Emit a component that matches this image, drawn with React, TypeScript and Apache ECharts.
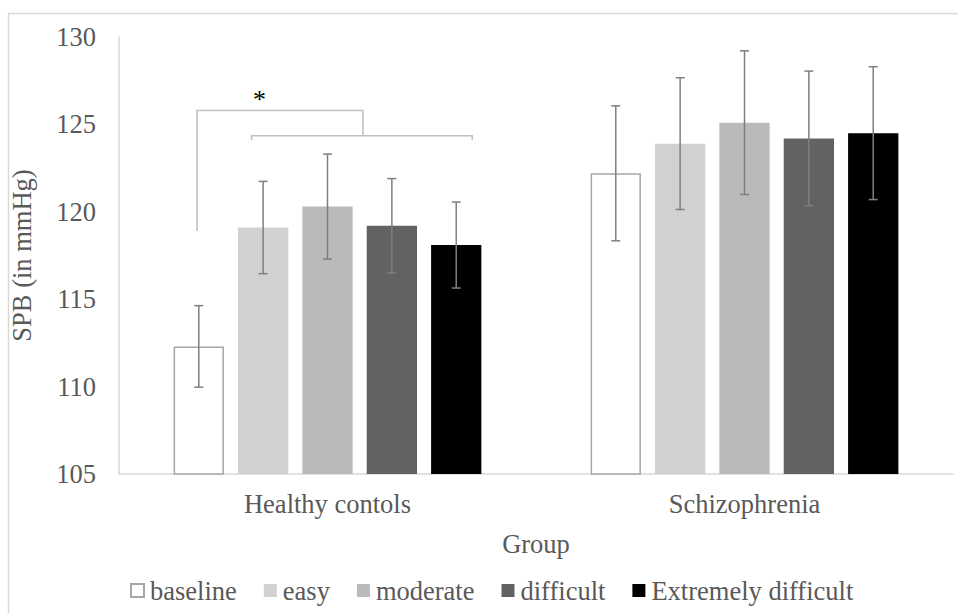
import React, { useEffect, useRef } from "react";
import * as echarts from "echarts";

const groups = ["Healthy contols", "Schizophrenia"];
const conditions = ["baseline", "easy", "moderate", "difficult", "Extremely difficult"];
const baselineMean = [112.3, 122.2];
const easyMean = [119.1, 123.9];
const moderateMean = [120.3, 125.1];
const difficultMean = [119.2, 124.2];
const extremeMean = [118.1, 124.5];
const baselineErr = [2.33, 3.86];
const easyErr = [2.64, 3.77];
const moderateErr = [3.0, 4.11];
const difficultErr = [2.7, 3.85];
const extremeErr = [2.46, 3.8];
const yTicks = [105, 110, 115, 120, 125, 130];
// significance bracket (healthy controls): baseline vs. other conditions
const bracketLevels = [118.9, 125.8, 124.35, 124.1]; // left foot, outer top, inner bar, inner feet
const bracketOffsets = [-0.313, 0.085, -0.182, 0.347, -0.163]; // fractions of band width from group centre
const bracketLabel = "*";

const means = [baselineMean, easyMean, moderateMean, difficultMean, extremeMean];
const errs = [baselineErr, easyErr, moderateErr, difficultErr, extremeErr];
const colors = ["#ffffff", "#d0d1d0", "#bababa", "#626262", "#000000"];

const CAT_GAP = 0.262;
const BAR_GAP = 0.28;
const FONT = "Liberation Serif, Times New Roman, serif";
const TXT = "#595959";
const FS = 26.5;

export default function App() {
  const ref = useRef<HTMLDivElement>(null);
  useEffect(() => {
    if (!ref.current) return;
    const chart = echarts.init(ref.current, undefined, { renderer: "svg" });

    const barSeries = conditions.map((name, i) => ({
      type: "bar",
      name,
      data: means[i],
      barGap: BAR_GAP * 100 + "%",
      barCategoryGap: CAT_GAP * 100 + "%",
      itemStyle:
        i === 0
          ? { color: "#ffffff", borderColor: "#a6a6a6", borderWidth: 1.5 }
          : { color: colors[i] },
      z: 2,
    }));

    const errSeries = conditions.map((name, i) => ({
      type: "custom",
      name: name + " error",
      data: means[i].map((m, g) => [g, m - errs[i][g], m + errs[i][g]]),
      encode: { x: 0, y: [1, 2] },
      z: 5,
      renderItem: (params: any, api: any) => {
        const g = api.value(0);
        const lo = api.coord([g, api.value(1)]);
        const hi = api.coord([g, api.value(2)]);
        const band = api.size([1, 0])[0];
        const bw = (band * (1 - CAT_GAP)) / (5 + 4 * BAR_GAP);
        const x = lo[0] + (i - 2) * bw * (1 + BAR_GAP);
        const cap = 4.5;
        const style = { stroke: "#7f7f7f", lineWidth: 1.5, fill: "none" };
        return {
          type: "group",
          children: [
            { type: "line", shape: { x1: x, y1: lo[1], x2: x, y2: hi[1] }, style },
            { type: "line", shape: { x1: x - cap, y1: lo[1], x2: x + cap, y2: lo[1] }, style },
            { type: "line", shape: { x1: x - cap, y1: hi[1], x2: x + cap, y2: hi[1] }, style },
          ],
        };
      },
    }));

    const bracketSeries = {
      type: "custom",
      name: "bracket",
      data: [[0, bracketLevels[1]]],
      encode: { x: 0, y: 1 },
      z: 6,
      renderItem: (params: any, api: any) => {
        const g = api.value(0);
        const c = api.coord([g, bracketLevels[0]]);
        const band = api.size([1, 0])[0];
        const xs = bracketOffsets.map((f) => c[0] + f * band);
        const y = (v: number) => api.coord([g, v])[1];
        const style = { stroke: "#bfbfbf", lineWidth: 1.5, fill: "none" };
        return {
          type: "group",
          children: [
            {
              type: "polyline",
              shape: {
                points: [
                  [xs[0], y(bracketLevels[0])],
                  [xs[0], y(bracketLevels[1])],
                  [xs[1], y(bracketLevels[1])],
                  [xs[1], y(bracketLevels[2])],
                ],
              },
              style,
            },
            {
              type: "polyline",
              shape: {
                points: [
                  [xs[2], y(bracketLevels[3])],
                  [xs[2], y(bracketLevels[2])],
                  [xs[3], y(bracketLevels[2])],
                  [xs[3], y(bracketLevels[3])],
                ],
              },
              style,
            },
            {
              type: "text",
              x: xs[4],
              y: y(bracketLevels[1]) + 2,
              style: {
                text: bracketLabel,
                fill: "#000000",
                fontSize: 26,
                fontFamily: FONT,
                align: "center",
                verticalAlign: "bottom",
              },
            },
          ],
        };
      },
    };

    chart.setOption({
      animation: false,
      backgroundColor: "#ffffff",
      textStyle: { fontFamily: FONT },
      graphic: [
        {
          type: "rect",
          shape: { x: 8.5, y: 13.5, width: 970, height: 620 },
          style: { fill: "none", stroke: "#d9d9d9", lineWidth: 1.5 },
          silent: true,
        },
      ],
      grid: { left: 117, right: 5, top: 37, bottom: 139, containLabel: false },
      legend: {
        data: conditions,
        left: 125,
        top: 572,
        icon: "rect",
        itemWidth: 13,
        itemHeight: 13,
        itemGap: 27,
        textStyle: { fontSize: FS, color: TXT, fontFamily: FONT, padding: [0, 0, 0, 1] },
      },
      xAxis: {
        type: "category",
        data: groups,
        name: "Group",
        nameLocation: "middle",
        nameGap: 56,
        nameTextStyle: { fontSize: FS, color: TXT, fontFamily: FONT },
        axisLine: { lineStyle: { color: "#d9d9d9", width: 1.5 } },
        axisTick: { show: false },
        axisLabel: { fontSize: FS, color: TXT, fontFamily: FONT, margin: 16 },
      },
      yAxis: {
        type: "value",
        min: yTicks[0],
        max: yTicks[yTicks.length - 1],
        interval: yTicks[1] - yTicks[0],
        name: "SPB (in mmHg)",
        nameLocation: "middle",
        nameGap: 84,
        nameTextStyle: { fontSize: FS, color: TXT, fontFamily: FONT },
        axisLine: { show: true, lineStyle: { color: "#d9d9d9", width: 1.5 } },
        axisTick: { show: false },
        splitLine: { show: false },
        axisLabel: { fontSize: FS, color: TXT, fontFamily: FONT, margin: 23 },
      },
      series: [...barSeries, ...errSeries, bracketSeries],
    });
    return () => chart.dispose();
  }, []);
  return (
    <div
      ref={ref}
      style={{ position: "fixed", left: 0, top: 0, width: 958, height: 613, background: "#fff" }}
    />
  );
}
